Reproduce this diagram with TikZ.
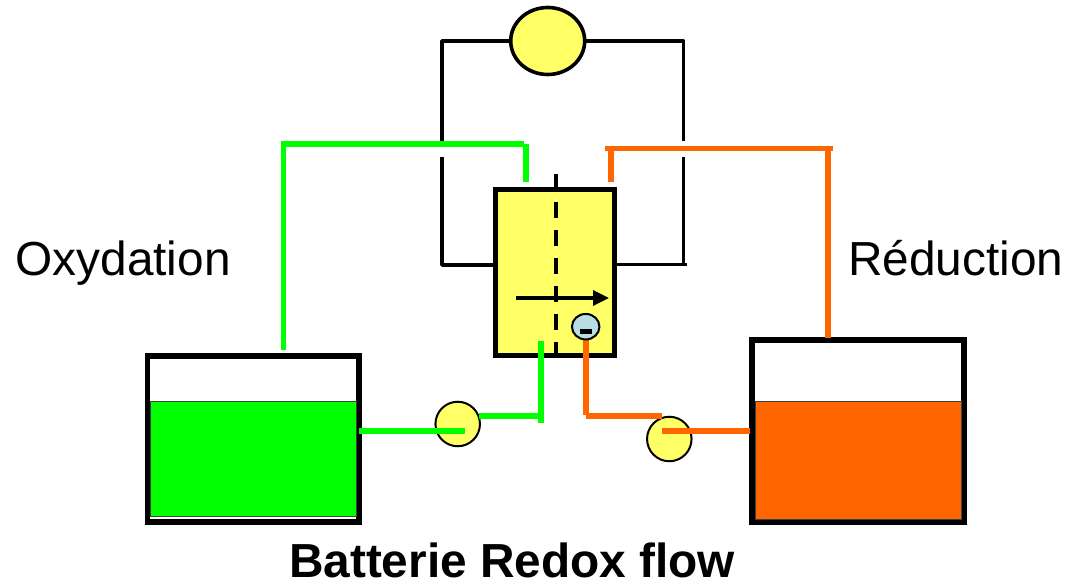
\documentclass[tikz,border=0pt]{standalone}
\usepackage{fontspec}
\setmainfont{Liberation Sans}
\usetikzlibrary{arrows.meta,shapes.geometric}
\newdimen\px \px=0.75pt
\definecolor{cellyellow}{HTML}{FFFF66}
\definecolor{ionblue}{HTML}{B8DDE2}
\definecolor{gpipe}{HTML}{00FF00}
\definecolor{opipe}{HTML}{FF6600}
\tikzset{
  box/.style={draw=black,line width=5.8\px,rectangle,inner sep=0pt,outer sep=0pt},
  liquid/.style={draw=black!75,line width=1.2\px,rectangle,inner sep=0pt,outer sep=0pt},
  round/.style={draw=black,fill=cellyellow,ellipse,inner sep=0pt,outer sep=0pt},
  wire/.style={draw=black,line width=3.6\px,line join=round},
  greenline/.style={draw=gpipe,line width=5.8\px},
  orangeline/.style={draw=opipe,line width=5.8\px},
  caption/.style={inner sep=0pt,outer sep=0pt,anchor=base west,font=\fontsize{35.85pt}{40pt}\selectfont}
}
\begin{document}
\begin{tikzpicture}[x=0.75pt,y=-0.75pt]
\useasboundingbox (0,0) rectangle (1068,584);
% tanks
\node[box,minimum width=211.4\px,minimum height=166\px] (tankL) at (253.2,439) {};
\node[box,minimum width=212\px,minimum height=182\px] (tankR) at (858.2,431.3) {};
\node[liquid,fill=gpipe,minimum width=206\px,minimum height=115.5\px] (liqL) at (253.2,459) {};
\node[liquid,fill=opipe,minimum width=206\px,minimum height=118\px] (liqR) at (858.2,460.2) {};
% meter and wires
\node[round,line width=3.6\px,minimum width=74\px,minimum height=67\px] (meter) at (547.7,41) {};
\coordinate (wl1) at (442,41); \coordinate (wl2) at (442,141);
\coordinate (wl3) at (442,157); \coordinate (wl4) at (442,265);
\coordinate (wr1) at (683.5,41); \coordinate (wr2) at (683.5,141);
\coordinate (wr3) at (683.5,157); \coordinate (wr4) at (683.5,265);
\coordinate (wr5) at (687,265);
% cell
\node[box,fill=cellyellow,minimum width=119\px,minimum height=166\px] (cell) at (555,272.5) {};
\draw[wire] (meter.west) -- (wl1) -- (wl2);
\draw[wire] (wl3) -- (wl4) -- (cell.west |- wl4);
\draw[wire] (meter.east) -- (wr1) -- (wr2);
\draw[wire] (wr3) -- (wr4);
\draw[wire,line width=3\px] (cell.east |- wr5) -- (wr5);
% membrane
\coordinate (m1) at (556,174); \coordinate (m2) at (556,356);
\draw[draw=black,line width=4\px,dash pattern=on 16\px off 12\px] (m1) -- (m2);
% arrow
\coordinate (a1) at (516,298); \coordinate (a2) at (609,298);
\draw[draw=black,line width=3.4\px,-{Triangle[length=12pt,width=11.25pt]}] (a1) -- (a2);
% pumps
\node[round,line width=2\px,minimum width=44.5\px,minimum height=44.5\px] (pumpL) at (457.7,424) {};
\node[round,line width=2\px,minimum width=44.5\px,minimum height=44.5\px] (pumpR) at (669.3,439) {};
% green pipes
\coordinate (g1) at (283.5,350); \coordinate (g2) at (283.5,144.3);
\coordinate (g3) at (524,144.3); \coordinate (g4) at (526,144);
\coordinate (g5) at (526,182);
\coordinate (g6) at (540.7,341); \coordinate (g7) at (540.7,423);
\coordinate (g8) at (479,416); \coordinate (g9) at (544,416);
\coordinate (g10) at (359,431.3); \coordinate (g11) at (465,431.3);
\draw[greenline] (g1) -- (g2) -- (g3);
\draw[greenline] (g4) -- (g5);
\draw[greenline] (g6) -- (g7);
\draw[greenline] (g8) -- (g9);
\draw[greenline] (g10) -- (g11);
% orange pipes
\coordinate (o1) at (605,148.5); \coordinate (o2) at (833,148.5);
\coordinate (o3) at (610.7,148.5); \coordinate (o4) at (610.7,182);
\coordinate (o5) at (828,148.5); \coordinate (o6) at (828,338);
\coordinate (o7) at (586,339); \coordinate (o8) at (586,415);
\coordinate (o9) at (586,416.3); \coordinate (o10) at (661.7,416.3);
\coordinate (o11) at (662,431.3); \coordinate (o12) at (750,431.3);
\draw[orangeline] (o1) -- (o2);
\draw[orangeline] (o3) -- (o4);
\draw[orangeline] (o5) -- (o6);
\draw[orangeline] (o7) -- (o8);
\draw[orangeline] (o9) -- (o10);
\draw[orangeline] (o11) -- (o12);
% ion
\node[round,fill=ionblue,line width=2\px,minimum width=27.5\px,minimum height=25.5\px] (ion) at (585.7,326.7) {};
\node[fill=black,inner sep=0pt,outer sep=0pt,minimum width=11.5\px,minimum height=4.5\px] (minus) at (585.8,331.5) {};
% labels
\node[caption] (ox) at (15.5,276) {Oxydation};
\node[caption] (red) at (848,276) {Réduction};
\node[caption,font=\fontsize{35.85pt}{40pt}\selectfont\bfseries] (title) at (289,577.5) {Batterie Redox flow};
\end{tikzpicture}
\end{document}
